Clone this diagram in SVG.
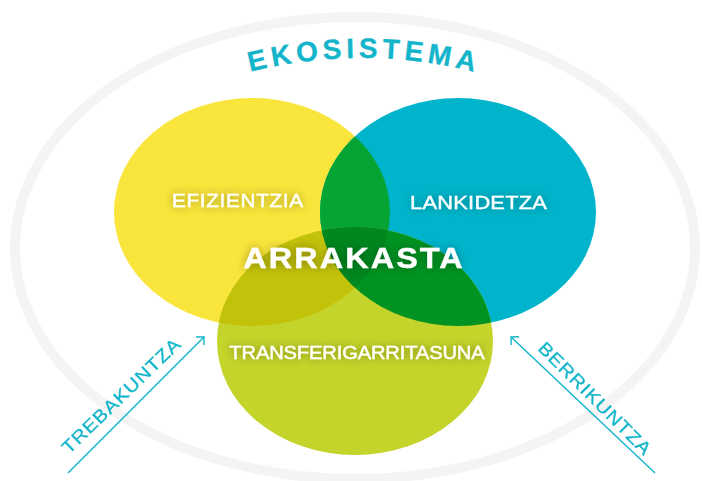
<svg xmlns="http://www.w3.org/2000/svg" width="702" height="481" viewBox="0 0 702 481">
<style>
.lbl{font-family:"Liberation Sans","DejaVu Sans",Arial,sans-serif;fill:#ffffff;stroke:#ffffff;stroke-width:0.35;text-anchor:middle;}
.cy{font-family:"Liberation Sans","DejaVu Sans",Arial,sans-serif;fill:#14b5ca;stroke:#14b5ca;stroke-width:0.3;text-anchor:middle;}
.arr{stroke:#14b5ca;stroke-width:1.4;fill:none;}
</style>
<defs>
<ellipse id="eY" cx="252" cy="212" rx="138" ry="114"/>
<ellipse id="eC" cx="458" cy="212" rx="138" ry="114"/>
<ellipse id="eL" cx="355" cy="341" rx="138" ry="114"/>
<clipPath id="cY"><use href="#eY"/></clipPath>
<clipPath id="cC"><use href="#eC"/></clipPath>
<clipPath id="cL"><use href="#eL"/></clipPath>
<filter id="glow" x="-30%" y="-80%" width="160%" height="260%">
<feGaussianBlur in="SourceAlpha" stdDeviation="4" result="b"/>
<feFlood flood-color="#000" flood-opacity="0.35"/>
<feComposite in2="b" operator="in" result="s"/>
<feMerge><feMergeNode in="s"/><feMergeNode in="SourceGraphic"/></feMerge>
</filter>
<marker id="ah" markerUnits="userSpaceOnUse" markerWidth="14" markerHeight="14" refX="7" refY="7" orient="auto" viewBox="0 0 14 14">
<path d="M1.3 1.3 L7 7 L1.3 12.7" fill="none" stroke="#14b5ca" stroke-width="1.4"/>
</marker>
<path id="arc" d="M 206.4 85.4 A 455 455 0 0 1 517.6 85.4" fill="none"/>
</defs>
<g id="ecosystem">
<ellipse cx="355" cy="248" rx="340" ry="231" fill="none" stroke="#f4f4f4" stroke-width="10"/>
<text class="cy" font-size="28" font-weight="bold"><textPath href="#arc" startOffset="50%" textLength="226" lengthAdjust="spacing">EKOSISTEMA</textPath></text>
</g>
<g id="efizientzia">
<use href="#eY" fill="#f9e53c"/>
</g>
<g id="lankidetza">
<use href="#eC" fill="#00b5cb"/>
</g>
<g id="transferigarritasuna">
<use href="#eL" fill="#c5d42b"/>
</g>
<g id="overlaps">
<g clip-path="url(#cY)"><use href="#eC" fill="#05a434"/><use href="#eL" fill="#c3c20b"/></g>
<g clip-path="url(#cC)"><use href="#eL" fill="#009322"/></g>
<g clip-path="url(#cY)"><g clip-path="url(#cC)"><use href="#eL" fill="#00871f"/></g></g>
</g>
<g id="labels" filter="url(#glow)">
<text class="lbl" transform="translate(237.5 207) scale(1.15 1)" font-size="18" textLength="114" lengthAdjust="spacing">EFIZIENTZIA</text>
<text class="lbl" transform="translate(478.5 209) scale(1.15 1)" font-size="19" textLength="119" lengthAdjust="spacing">LANKIDETZA</text>
<text class="lbl" transform="translate(357 359) scale(1.12 1)" font-size="18" textLength="228" lengthAdjust="spacing">TRANSFERIGARRITASUNA</text>
<text id="arrakasta" class="lbl" transform="translate(353 268) scale(1.12 1)" font-size="29" font-weight="bold" textLength="196" lengthAdjust="spacing">ARRAKASTA</text>
</g>
<g id="connectors">
<line class="arr" x1="68" y1="473" x2="204" y2="337" marker-end="url(#ah)"/>
<line class="arr" x1="655" y1="473" x2="511" y2="337" marker-end="url(#ah)"/>
<text class="cy" font-size="18" transform="translate(125.3 400.3) rotate(-44) scale(1.12 1)" textLength="140" lengthAdjust="spacing">TREBAKUNTZA</text>
<text class="cy" font-size="18" transform="translate(590.4 402.6) rotate(45) scale(1.12 1)" textLength="135" lengthAdjust="spacing">BERRIKUNTZA</text>
</g>
</svg>
